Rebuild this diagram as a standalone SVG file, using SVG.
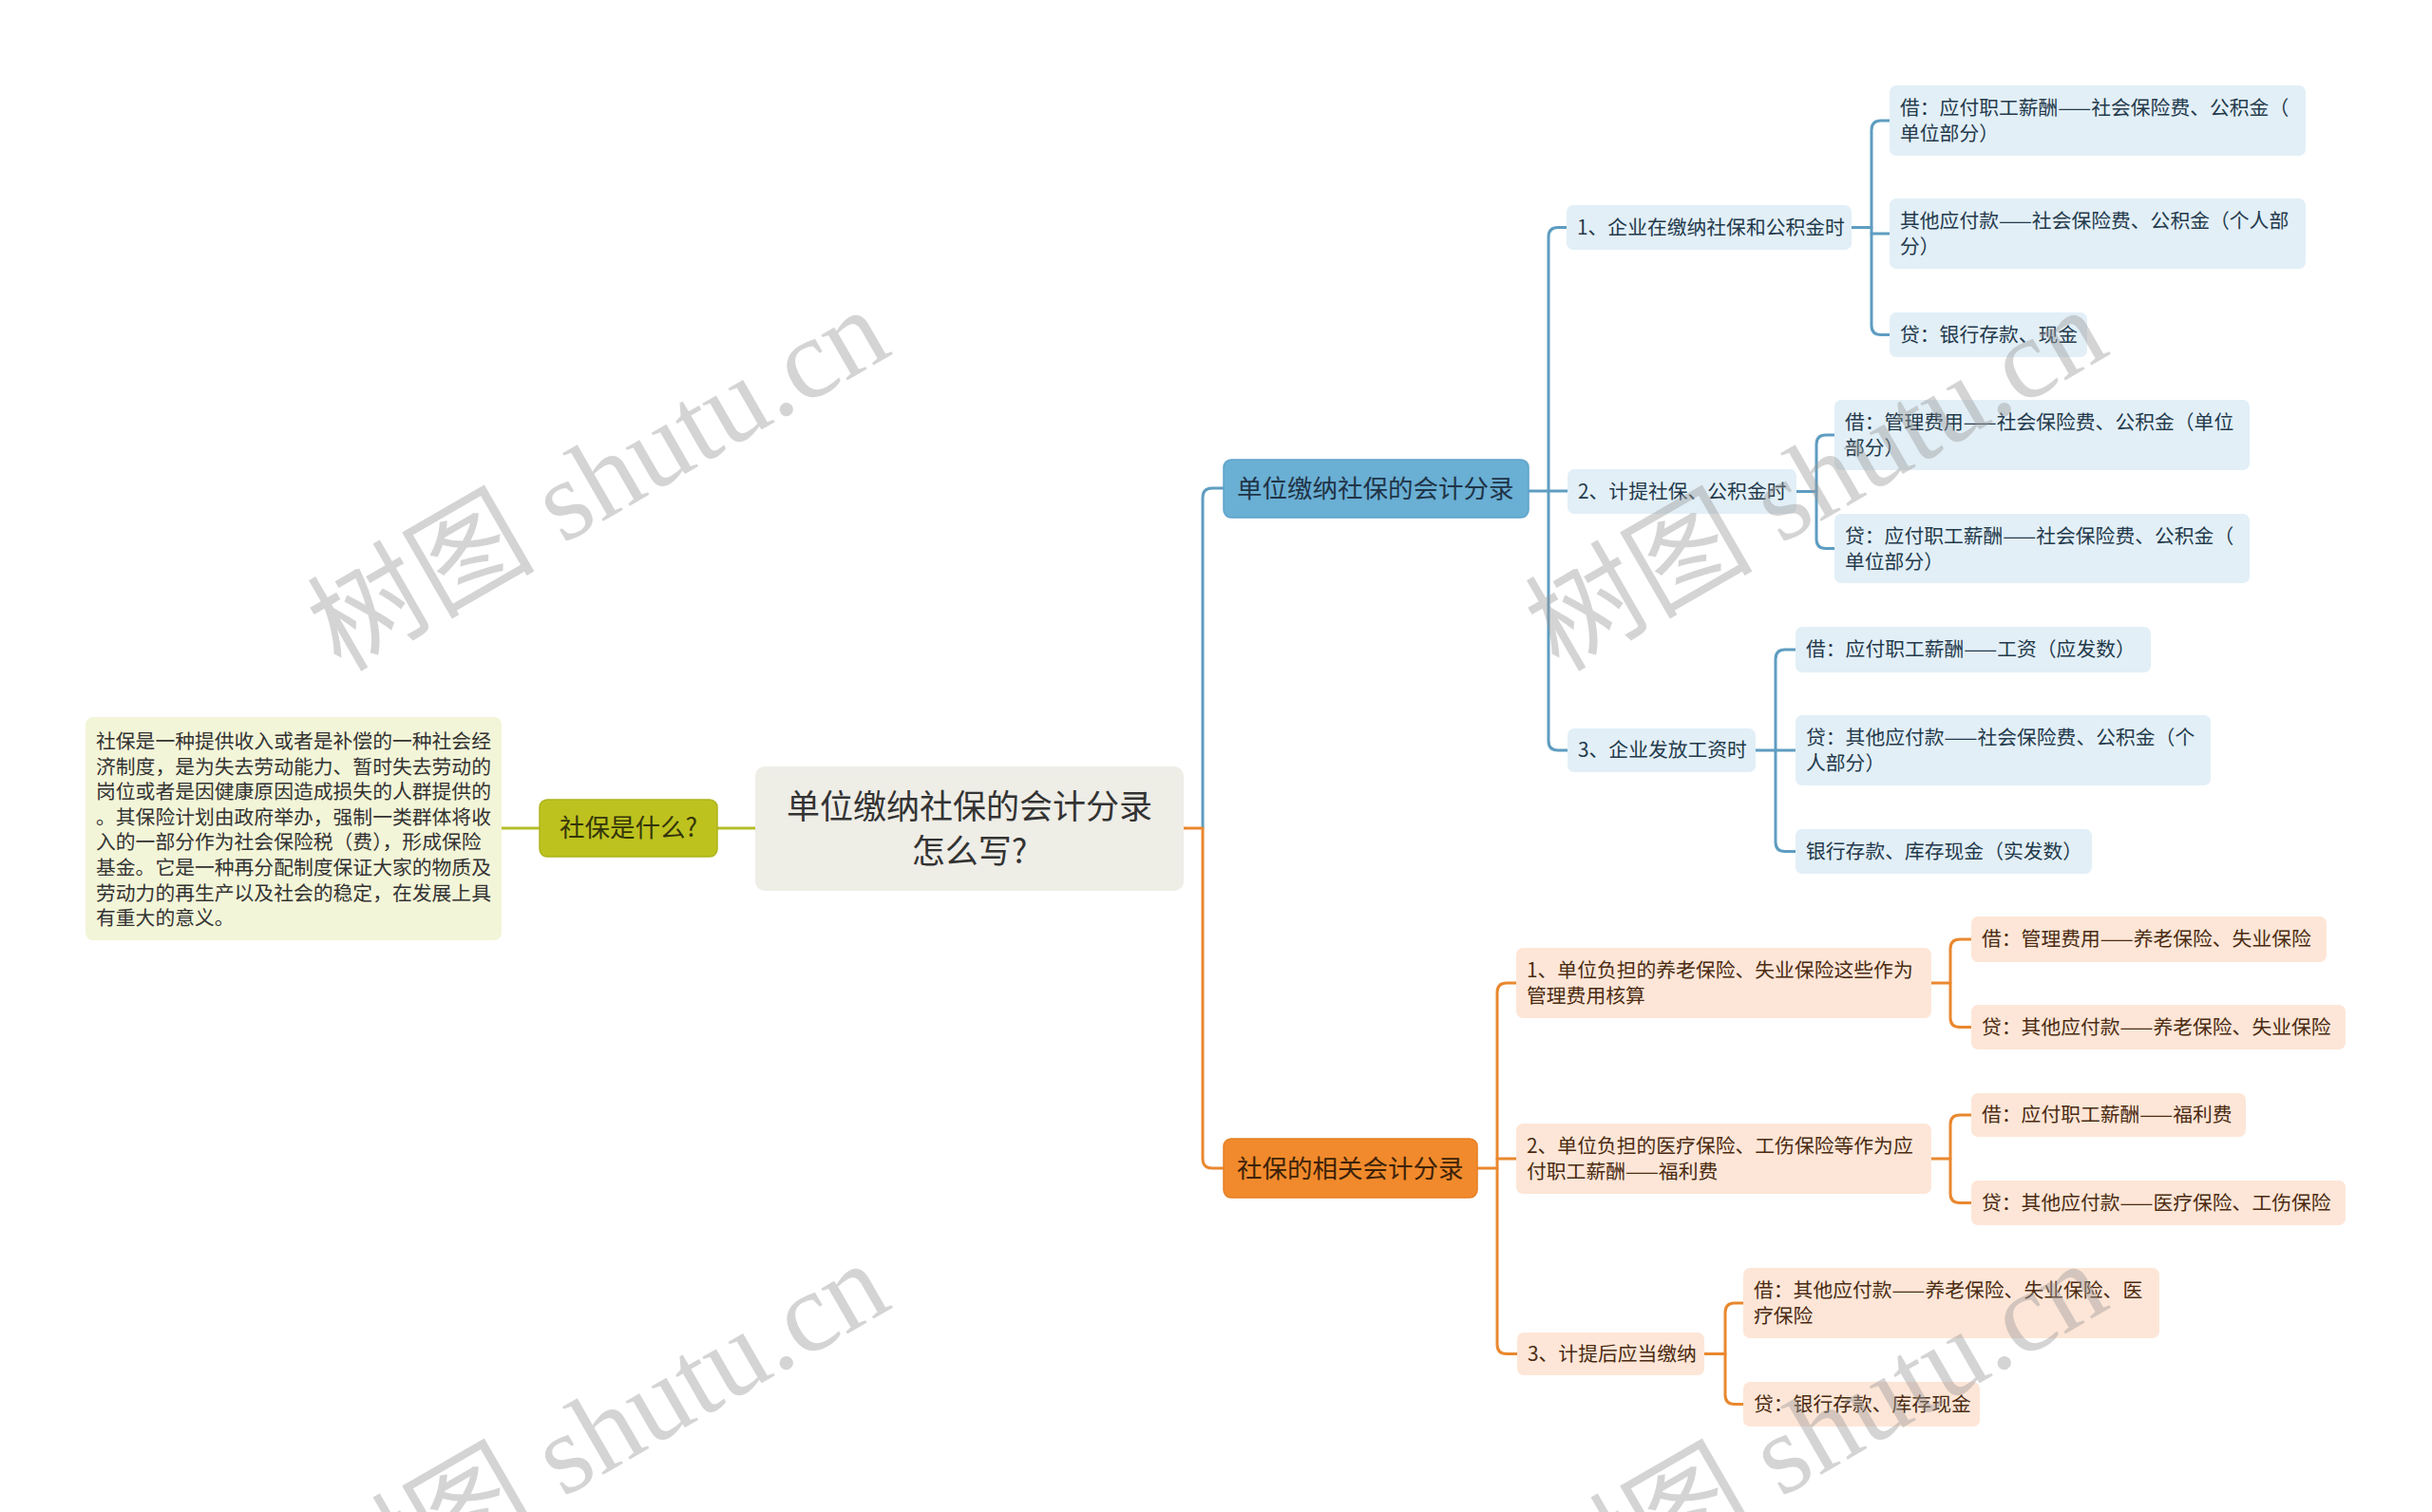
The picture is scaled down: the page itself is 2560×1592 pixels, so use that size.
<svg xmlns="http://www.w3.org/2000/svg" width="2560" height="1592" viewBox="0 0 2560 1592">
<defs>
<style>
text{font-family:"Noto Sans CJK SC","Noto Sans",sans-serif;}
.root-box{fill:#eeede6;}
.root-t{font-size:35px;fill:#333333;text-anchor:middle;}
.ol-box{fill:#bdc21f;stroke:#aeb41a;stroke-width:1.5;}
.ol-t{font-size:26.5px;fill:#34350a;text-anchor:middle;}
.desc-box{fill:#f3f5d8;}
.desc-t{font-size:20.8px;fill:#333333;}
.b-main{fill:#6aafd4;stroke:#5ea3c9;stroke-width:1.5;}
.b-main-t{font-size:26.5px;fill:#1f3447;}
.b-box{fill:#e2eff7;}
.b-t{font-size:20.8px;fill:#243a4c;}
.o-main{fill:#f18a2c;stroke:#e57f22;stroke-width:1.5;}
.o-main-t{font-size:26.5px;fill:#3d2208;}
.o-box{fill:#fde6d7;}
.o-t{font-size:20.8px;fill:#4b2b12;}
.ln{fill:none;stroke-width:3;stroke-linecap:round;stroke-linejoin:round;}
.ln-ol{stroke:#b6bd28;}
.ln-b{stroke:#5e9dc1;}
.ln-o{stroke:#e9882f;}
.wm{font-size:120px;fill:#9a9a9a;opacity:0.42;}
.wm-lat{font-family:"Liberation Serif",serif;}
</style>
</defs>
<rect x="0" y="0" width="2560" height="1592" fill="#ffffff"/>

<g id="connectors">
<path class="ln ln-ol" d="M528,872 H568"/>
<path class="ln ln-ol" d="M755,872 H795"/>
<path class="ln ln-b" d="M1266,872 V524 Q1266,514 1276,514 H1288"/>
<path class="ln ln-o" d="M1246,872 H1266 V1220 Q1266,1230 1276,1230 H1288"/>
<path class="ln ln-b" d="M1609,517 H1650"/>
<path class="ln ln-b" d="M1649,239.5 H1640 Q1630,239.5 1630,249.5 V780 Q1630,790 1640,790 H1650"/>
<path class="ln ln-b" d="M1949,239.5 H1970"/>
<path class="ln ln-b" d="M1989,127 H1980 Q1970,127 1970,137 V342.5 Q1970,352.5 1980,352.5 H1989"/>
<path class="ln ln-b" d="M1970,246 H1989"/>
<path class="ln ln-b" d="M1891,517.5 H1912"/>
<path class="ln ln-b" d="M1931,458 H1922 Q1912,458 1912,468 V567.5 Q1912,577.5 1922,577.5 H1931"/>
<path class="ln ln-b" d="M1848,790 H1890"/>
<path class="ln ln-b" d="M1890,684 H1879 Q1869,684 1869,694 V886.5 Q1869,896.5 1879,896.5 H1890"/>
<path class="ln ln-o" d="M1555,1230 H1576"/>
<path class="ln ln-o" d="M1596,1035 H1586 Q1576,1035 1576,1045 V1415.5 Q1576,1425.5 1586,1425.5 H1597"/>
<path class="ln ln-o" d="M1576,1220 H1596"/>
<path class="ln ln-o" d="M2033,1035 H2053"/>
<path class="ln ln-o" d="M2075,989 H2063 Q2053,989 2053,999 V1071.5 Q2053,1081.5 2063,1081.5 H2075"/>
<path class="ln ln-o" d="M2033,1220 H2053"/>
<path class="ln ln-o" d="M2075,1174 H2063 Q2053,1174 2053,1184 V1256.5 Q2053,1266.5 2063,1266.5 H2075"/>
<path class="ln ln-o" d="M1794,1425.5 H1816"/>
<path class="ln ln-o" d="M1835,1372 H1826 Q1816,1372 1816,1382 V1468.5 Q1816,1478.5 1826,1478.5 H1835"/>
</g>

<g id="desc">
<rect class="desc-box" x="90" y="755" width="438" height="235" rx="8"/>
<text class="desc-t" x="101" y="788">社保是一种提供收入或者是补偿的一种社会经</text>
<text class="desc-t" x="101" y="814.6">济制度，是为失去劳动能力、暂时失去劳动的</text>
<text class="desc-t" x="101" y="841.2">岗位或者是因健康原因造成损失的人群提供的</text>
<text class="desc-t" x="101" y="867.8">。其保险计划由政府举办，强制一类群体将收</text>
<text class="desc-t" x="101" y="894.4">入的一部分作为社会保险税（费），形成保险</text>
<text class="desc-t" x="101" y="921">基金。它是一种再分配制度保证大家的物质及</text>
<text class="desc-t" x="101" y="947.6">劳动力的再生产以及社会的稳定，在发展上具</text>
<text class="desc-t" x="101" y="974.2">有重大的意义。</text>
</g>

<g id="n-what">
<rect class="ol-box" x="568" y="842" width="187" height="60" rx="8"/>
<text class="ol-t" x="661.5" y="881">社保是什么?</text>
</g>

<g id="n-root">
<rect class="root-box" x="795" y="807" width="451" height="131" rx="10"/>
<text class="root-t" x="1020.5" y="862">单位缴纳社保的会计分录</text>
<text class="root-t" x="1020.5" y="909">怎么写?</text>
</g>

<g id="n-blue">
<rect class="b-main" x="1288" y="484" width="321" height="61" rx="8"/>
<text class="b-main-t" x="1302" y="524">单位缴纳社保的会计分录</text>
</g>
<g id="n-b1">
<rect class="b-box" x="1649" y="216" width="300" height="47" rx="7"/>
<text class="b-t" x="1660" y="247">1、企业在缴纳社保和公积金时</text>
</g>
<g id="n-b1a">
<rect class="b-box" x="1989" y="90" width="438" height="74" rx="7"/>
<text class="b-t" x="2000" y="121">借：应付职工薪酬——社会保险费、公积金（</text>
<text class="b-t" x="2000" y="148">单位部分）</text>
</g>
<g id="n-b1b">
<rect class="b-box" x="1989" y="209" width="438" height="74" rx="7"/>
<text class="b-t" x="2000" y="240">其他应付款——社会保险费、公积金（个人部</text>
<text class="b-t" x="2000" y="267">分）</text>
</g>
<g id="n-b1c">
<rect class="b-box" x="1989" y="329" width="208" height="47" rx="7"/>
<text class="b-t" x="2000" y="360">贷：银行存款、现金</text>
</g>
<g id="n-b2">
<rect class="b-box" x="1650" y="494" width="241" height="47" rx="7"/>
<text class="b-t" x="1661" y="525">2、计提社保、公积金时</text>
</g>
<g id="n-b2a">
<rect class="b-box" x="1931" y="421" width="437" height="74" rx="7"/>
<text class="b-t" x="1942" y="452">借：管理费用——社会保险费、公积金（单位</text>
<text class="b-t" x="1942" y="479">部分）</text>
</g>
<g id="n-b2b">
<rect class="b-box" x="1931" y="541" width="437" height="73" rx="7"/>
<text class="b-t" x="1942" y="572">贷：应付职工薪酬——社会保险费、公积金（</text>
<text class="b-t" x="1942" y="599">单位部分）</text>
</g>
<g id="n-b3">
<rect class="b-box" x="1650" y="767" width="198" height="46" rx="7"/>
<text class="b-t" x="1661" y="797">3、企业发放工资时</text>
</g>
<g id="n-b3a">
<rect class="b-box" x="1890" y="660" width="374" height="48" rx="7"/>
<text class="b-t" x="1901" y="691">借：应付职工薪酬——工资（应发数）</text>
</g>
<g id="n-b3b">
<rect class="b-box" x="1890" y="753" width="437" height="74" rx="7"/>
<text class="b-t" x="1901" y="784">贷：其他应付款——社会保险费、公积金（个</text>
<text class="b-t" x="1901" y="811">人部分）</text>
</g>
<g id="n-b3c">
<rect class="b-box" x="1890" y="873" width="312" height="47" rx="7"/>
<text class="b-t" x="1901" y="904">银行存款、库存现金（实发数）</text>
</g>

<g id="n-orange">
<rect class="o-main" x="1288" y="1199" width="267" height="62" rx="8"/>
<text class="o-main-t" x="1302" y="1240">社保的相关会计分录</text>
</g>
<g id="n-o1">
<rect class="o-box" x="1596" y="998" width="437" height="74" rx="7"/>
<text class="o-t" x="1607" y="1029">1、单位负担的养老保险、失业保险这些作为</text>
<text class="o-t" x="1607" y="1056">管理费用核算</text>
</g>
<g id="n-o1a">
<rect class="o-box" x="2075" y="965" width="374" height="48" rx="7"/>
<text class="o-t" x="2086" y="996">借：管理费用——养老保险、失业保险</text>
</g>
<g id="n-o1b">
<rect class="o-box" x="2075" y="1058" width="394" height="47" rx="7"/>
<text class="o-t" x="2086" y="1089">贷：其他应付款——养老保险、失业保险</text>
</g>
<g id="n-o2">
<rect class="o-box" x="1596" y="1183" width="437" height="74" rx="7"/>
<text class="o-t" x="1607" y="1214">2、单位负担的医疗保险、工伤保险等作为应</text>
<text class="o-t" x="1607" y="1241">付职工薪酬——福利费</text>
</g>
<g id="n-o2a">
<rect class="o-box" x="2075" y="1151" width="289" height="46" rx="7"/>
<text class="o-t" x="2086" y="1181">借：应付职工薪酬——福利费</text>
</g>
<g id="n-o2b">
<rect class="o-box" x="2075" y="1243" width="394" height="47" rx="7"/>
<text class="o-t" x="2086" y="1274">贷：其他应付款——医疗保险、工伤保险</text>
</g>
<g id="n-o3">
<rect class="o-box" x="1597" y="1403" width="197" height="45" rx="7"/>
<text class="o-t" x="1608" y="1433">3、计提后应当缴纳</text>
</g>
<g id="n-o3a">
<rect class="o-box" x="1835" y="1335" width="438" height="74" rx="7"/>
<text class="o-t" x="1846" y="1366">借：其他应付款——养老保险、失业保险、医</text>
<text class="o-t" x="1846" y="1393">疗保险</text>
</g>
<g id="n-o3b">
<rect class="o-box" x="1835" y="1455" width="249" height="47" rx="7"/>
<text class="o-t" x="1846" y="1486">贷：银行存款、库存现金</text>
</g>

<g id="watermarks">
<text class="wm" transform="translate(650,540) rotate(-30)" text-anchor="middle">树图<tspan class="wm-lat"> shutu.cn</tspan></text>
<text class="wm" transform="translate(1932,540) rotate(-30)" text-anchor="middle">树图<tspan class="wm-lat"> shutu.cn</tspan></text>
<text class="wm" transform="translate(650,1544) rotate(-30)" text-anchor="middle">树图<tspan class="wm-lat"> shutu.cn</tspan></text>
<text class="wm" transform="translate(1932,1544) rotate(-30)" text-anchor="middle">树图<tspan class="wm-lat"> shutu.cn</tspan></text>
</g>
</svg>
